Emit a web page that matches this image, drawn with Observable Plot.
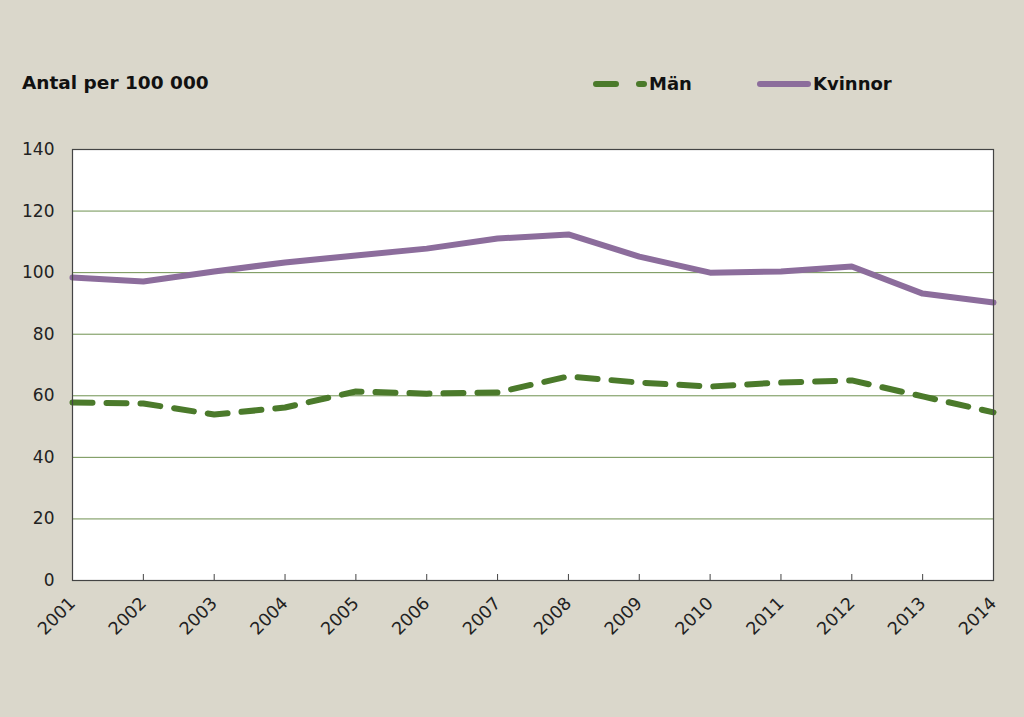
<!DOCTYPE html>
<html>
<head>
<meta charset="utf-8">
<script src="https://cdn.jsdelivr.net/npm/d3@7"></script>
<script src="https://cdn.jsdelivr.net/npm/@observablehq/plot@0.6"></script>
<style>
  html, body { margin: 0; padding: 0; background: #dad7cb; }
  body { width: 1024px; height: 717px; overflow: hidden; font-family: "DejaVu Sans", sans-serif; }
  #header { position: relative; height: 117px; }
  #title { position: absolute; left: 22px; top: 72px; font-size: 18.5px; font-weight: bold; color: #111; }
  .leg { position: absolute; top: 73px; display: flex; align-items: center; font-size: 18px; font-weight: bold; color: #111; }
  .leg svg { margin-right: 2px; }
</style>
</head>
<body>
<div id="header">
  <div id="title">Antal per 100 000</div>
  <div class="leg" style="left:593px"><svg width="54" height="12"><line x1="3" y1="6" x2="51" y2="6" stroke="#4b7a2b" stroke-width="6" stroke-linecap="round" stroke-dasharray="20 23"/></svg><span>Män</span></div>
  <div class="leg" style="left:757px"><svg width="54" height="12"><line x1="3" y1="6" x2="51" y2="6" stroke="#8c6d9c" stroke-width="6" stroke-linecap="round"/></svg><span>Kvinnor</span></div>
</div>
<div id="chart"></div>
<script>
const years = [2001, 2002, 2003, 2004, 2005, 2006, 2007, 2008, 2009, 2010, 2011, 2012, 2013, 2014];
const kvinnor = [98.4, 97.1, 100.4, 103.3, 105.6, 107.8, 111.1, 112.4, 105.2, 100.0, 100.4, 102.0, 93.2, 90.3];
const man = [57.8, 57.5, 53.9, 56.2, 61.4, 60.7, 61.1, 66.3, 64.3, 63.0, 64.3, 65.0, 59.8, 54.6];
const yTicks = [0, 20, 40, 60, 80, 100, 120, 140];
const gridTicks = [20, 40, 60, 80, 100, 120];

const dataK = years.map((y, i) => ({year: y, value: kvinnor[i]}));
const dataM = years.map((y, i) => ({year: y, value: man[i]}));

const chart = Plot.plot({
  width: 1024,
  height: 600,
  marginLeft: 72,
  marginRight: 31,
  marginTop: 32,
  marginBottom: 137,
  style: {fontFamily: "DejaVu Sans, sans-serif", fontSize: "17px", color: "#222", background: "transparent"},
  x: {type: "linear", domain: [2001, 2014]},
  y: {domain: [0, 140]},
  marks: [
    Plot.frame({fill: "white", stroke: null}),
    Plot.ruleY(gridTicks, {stroke: "#6f9150", strokeWidth: 1}),
    Plot.axisY({ticks: yTicks, tickSize: 0, tickPadding: 18, label: null, tickFormat: d => String(d), fontSize: 17}),
    Plot.ruleX(years.slice(1, -1), {y1: () => 0, y2: () => 0, insetTop: -6, stroke: "#444", strokeWidth: 1}),
    Plot.axisX({ticks: years, tickSize: 0, tickPadding: 20, tickRotate: -45, tickFormat: d => String(d), label: null, fontSize: 17.5}),
    Plot.lineY(dataK, {x: "year", y: "value", stroke: "#8c6d9c", strokeWidth: 6, strokeLinejoin: "round"}),
    Plot.lineY(dataM, {x: "year", y: "value", stroke: "#4b7a2b", strokeWidth: 6, strokeLinecap: "round", strokeDasharray: "20 14"}),
    Plot.frame({stroke: "#444", strokeWidth: 1.2})
  ]
});
document.getElementById("chart").appendChild(chart);
</script>
</body>
</html>
